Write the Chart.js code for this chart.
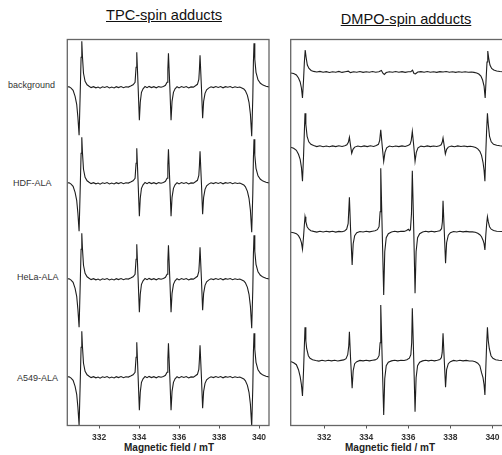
<!DOCTYPE html>
<html>
<head>
<meta charset="utf-8">
<script src="https://cdn.jsdelivr.net/npm/chart.js@4.4.1/dist/chart.umd.min.js"></script>
<style>
  html, body { margin: 0; padding: 0; background: #fff; overflow: hidden; }
  body { width: 502px; height: 455px; position: relative; font-family: "Liberation Sans", Arial, sans-serif; }
  canvas { position: absolute; left: 0; top: 0; }
  .title { position: absolute; font-size: 14.6px; line-height: 15px; text-decoration: underline; color: #111; white-space: nowrap; transform: translateX(-50%); }
  .row { position: absolute; font-size: 9px; line-height: 10px; color: #333; white-space: nowrap; }
  .xt { position: absolute; font-size: 10px; line-height: 10px; font-weight: bold; color: #222; white-space: nowrap; transform: translateX(-50%); }
</style>
</head>
<body>
<div class="title" style="left:164px; top:8px;">TPC-spin adducts</div>
<div class="title" style="left:406px; top:12px;">DMPO-spin adducts</div>
<div class="row" style="left:8px; top:80px;">background</div>
<div class="row" style="left:13px; top:178px;">HDF-ALA</div>
<div class="row" style="left:17px; top:272px;">HeLa-ALA</div>
<div class="row" style="left:17px; top:373px;">A549-ALA</div>
<div class="xt" style="left:169px; top:443px;">Magnetic field / mT</div>
<div class="xt" style="left:390px; top:443px;">Magnetic field / mT</div>
<canvas id="tpc" width="502" height="455"></canvas>
<canvas id="dmpo" width="504" height="455"></canvas>
<script>
// magnetic field axis (mT)
const fieldMin = 330.41;
const fieldMax = 340.5;
const fieldTicks = [332, 334, 336, 338, 340];

const rowNames = ['background', 'HDF-ALA', 'HeLa-ALA', 'A549-ALA'];
// vertical stacking of the spectra (same units as signal)
const tpcOffsets = [338.2, 242.2, 146.2, 48.2];
const dmpoOffsets = [353.5, 279.2, 193.8, 64.8];

// TPC spectrum, [field mT, signal] - all four samples look the same
const tpcSignal = [
  [330.41, 0.6], [330.5, 0.4], [330.6, -0.8], [330.7, -3], [330.8, -9], [330.88, -17], [330.94, -30], [331.0, -48],
  [331.05, -10], [331.1, 30], [331.135, 46], [331.17, 30], [331.22, 14], [331.3, 6], [331.4, 2.5], [331.5, 1],
  [331.6, -0.3], [331.72, 0.6], [331.84, -0.5], [331.95, 0.3], [332.05, -0.9], [332.17, 0.5], [332.28, -0.2], [332.4, 0.8],
  [332.52, -0.6], [332.63, 0.2], [332.75, -0.7], [332.86, 0.6], [332.97, -0.3], [333.1, 0.7], [333.22, -0.4], [333.34, 0.5],
  [333.46, 0.2], [333.58, 1.2], [333.7, 2.5], [333.8, 5], [333.85, 20], [333.885, 35], [333.95, 2], [334.015, -33],
  [334.06, -15], [334.12, -5], [334.2, -1.5], [334.3, 0.8], [334.4, -0.4], [334.5, 0.9], [334.62, -0.3], [334.74, 0.6],
  [334.86, -0.5], [334.98, 0.7], [335.1, 0.1], [335.22, 0.9], [335.32, 2], [335.4, 5], [335.44, 18], [335.47, 34],
  [335.54, 0], [335.6, -33], [335.65, -14], [335.72, -5], [335.8, -1.5], [335.9, 0.6], [336.0, -0.6], [336.12, 0.8],
  [336.24, -0.2], [336.36, 0.7], [336.48, -0.7], [336.6, 0.4], [336.72, 0.2], [336.82, 1.5], [336.92, 3], [336.99, 8],
  [337.02, 18], [337.05, 32], [337.12, 0], [337.18, -31], [337.23, -14], [337.3, -6], [337.38, -2.5], [337.48, -0.8],
  [337.6, 0.5], [337.72, -0.3], [337.84, 0.8], [337.96, -0.2], [338.08, 0.7], [338.2, -0.5], [338.32, 0.6], [338.44, 0.1],
  [338.56, 0.8], [338.68, -0.4], [338.8, 0.5], [338.92, -0.2], [339.04, 0.3], [339.14, -0.6], [339.24, -1.6], [339.32, -3.5],
  [339.42, -8], [339.5, -15], [339.57, -27], [339.635, -49], [339.69, -10], [339.72, 25], [339.75, 44], [339.79, 28],
  [339.85, 15], [339.95, 7.5], [340.07, 4], [340.2, 2.2], [340.35, 1], [340.5, 0.4]
];

// DMPO spectra
const dmpoBackground = [
  [330.41, -1], [330.55, -1.5], [330.68, -3], [330.78, -6], [330.86, -10], [330.92, -16], [330.97, -26], [331.02, -8],
  [331.06, 10], [331.1, 22], [331.14, 15], [331.2, 7], [331.28, 3.5], [331.38, 1.5], [331.5, 0.6], [331.65, 0],
  [331.8, 0.6], [331.95, -0.3], [332.1, 0.4], [332.25, -0.5], [332.4, 0.3], [332.55, -0.2], [332.7, 0.6], [332.85, -0.4],
  [333.0, 0.2], [333.15, 0.8], [333.25, -0.6], [333.4, 0.3], [333.55, -0.3], [333.7, 0.5], [333.85, -0.4], [334.0, 0.2],
  [334.15, -0.2], [334.3, 0.5], [334.45, -0.3], [334.6, 0.3], [334.72, 1.5], [334.8, -1.5], [334.86, -2.5], [334.95, -0.5],
  [335.1, 0.3], [335.25, -0.3], [335.4, 0.5], [335.55, -0.2], [335.7, 0.4], [335.85, -0.4], [336.0, 0.2], [336.12, 0.4],
  [336.2, 1.8], [336.27, -1.5], [336.34, -1.8], [336.45, 0], [336.6, 0.4], [336.75, -0.3], [336.9, 0.5], [337.05, -0.2],
  [337.2, 0.3], [337.35, -0.4], [337.5, 0.4], [337.65, 0], [337.8, 0.5], [337.95, -0.2], [338.1, 0.3], [338.25, -0.4],
  [338.4, 0.3], [338.55, -0.2], [338.7, 0.2], [338.85, -0.3], [339.0, 0], [339.12, -0.4], [339.25, -1], [339.35, -2],
  [339.45, -4], [339.53, -8], [339.6, -14], [339.652, -26], [339.7, -6], [339.74, 10], [339.776, 21], [339.82, 14],
  [339.88, 7], [339.96, 3.5], [340.06, 2], [340.2, 1], [340.35, 0.5], [340.5, 0.3]
];

const dmpoHdf = [
  [330.41, -1], [330.55, -2], [330.68, -4], [330.78, -8], [330.86, -13], [330.92, -21], [330.97, -35], [331.02, -10],
  [331.06, 15], [331.09, 33], [331.13, 22], [331.19, 10], [331.27, 4.5], [331.37, 2], [331.5, 0.8], [331.65, -0.3],
  [331.8, 0.5], [331.95, -0.4], [332.1, 0.3], [332.25, -0.5], [332.4, 0.4], [332.55, -0.3], [332.7, 0.5], [332.85, -0.2],
  [332.98, 0.6], [333.08, 1.5], [333.15, 4], [333.2, 9], [333.26, 0], [333.31, -7], [333.37, -3], [333.45, -0.8],
  [333.6, 0.3], [333.75, -0.4], [333.9, 0.4], [334.05, -0.3], [334.2, 0.5], [334.35, -0.2], [334.48, 0.8], [334.58, 2],
  [334.64, 6], [334.69, 16.5], [334.76, 0], [334.83, -15], [334.89, -6], [334.97, -1.5], [335.1, 0.3], [335.25, -0.4],
  [335.4, 0.3], [335.55, -0.3], [335.7, 0.4], [335.85, -0.2], [335.98, 0.7], [336.08, 2], [336.14, 6], [336.19, 15],
  [336.26, 0], [336.32, -15], [336.38, -6], [336.46, -1.5], [336.6, 0.2], [336.75, -0.4], [336.9, 0.4], [337.05, -0.3],
  [337.2, 0.3], [337.35, -0.2], [337.48, 0.6], [337.56, 1.5], [337.61, 4], [337.65, 8.3], [337.71, 0], [337.76, -7.7],
  [337.82, -3], [337.9, -0.8], [338.05, 0.2], [338.2, -0.4], [338.35, 0.4], [338.5, -0.2], [338.65, 0.3], [338.8, -0.3],
  [338.95, 0], [339.08, -0.5], [339.2, -1.2], [339.3, -2.5], [339.4, -5], [339.48, -9], [339.55, -16], [339.6, -24],
  [339.64, -35], [339.68, -8], [339.72, 15], [339.76, 33], [339.8, 22], [339.86, 10], [339.94, 4.5], [340.05, 2],
  [340.2, 1], [340.35, 0.5], [340.5, 0.2]
];

const dmpoHela = [
  [330.41, -0.5], [330.55, -1], [330.68, -2], [330.78, -4], [330.86, -7], [330.92, -11], [330.97, -17.6], [331.02, -5],
  [331.06, 7], [331.09, 15], [331.13, 10], [331.19, 5], [331.27, 2.5], [331.37, 1], [331.5, 0.3], [331.65, -0.4],
  [331.8, 0.4], [331.95, -0.3], [332.1, 0.5], [332.25, -0.2], [332.4, 0.4], [332.55, -0.4], [332.7, 0.3], [332.85, 0],
  [332.97, 0.8], [333.07, 2.5], [333.14, 8], [333.2, 34.4], [333.26, 0], [333.33, -33.3], [333.38, -12], [333.45, -4],
  [333.55, -1], [333.7, 0.2], [333.85, -0.3], [334.0, 0.4], [334.15, -0.2], [334.3, 0.5], [334.42, 0.9], [334.53, 2],
  [334.61, 5], [334.66, 20], [334.69, 63.4], [334.76, 0], [334.83, -63.3], [334.88, -20], [334.95, -6], [335.05, -2],
  [335.2, -0.3], [335.35, 0.4], [335.5, -0.2], [335.65, 0.5], [335.8, 0.3], [335.92, 1.2], [336.0, 2.4], [336.06, 1],
  [336.1, 2], [336.15, 18], [336.19, 61], [336.26, 0], [336.32, -61.6], [336.37, -20], [336.44, -6], [336.54, -2],
  [336.68, -0.3], [336.82, 0.4], [336.96, -0.2], [337.1, 0.5], [337.24, -0.2], [337.38, 0.4], [337.5, 1], [337.58, 3],
  [337.62, 10], [337.65, 31], [337.71, 0], [337.77, -31.6], [337.82, -11], [337.9, -3.5], [338.0, -1], [338.15, 0.2],
  [338.3, -0.3], [338.45, 0.4], [338.6, -0.2], [338.75, 0.3], [338.9, -0.2], [339.05, -0.2], [339.18, -0.6], [339.3, -1.5],
  [339.4, -3], [339.48, -5], [339.55, -8.5], [339.6, -12], [339.64, -18.3], [339.68, -4], [339.72, 7], [339.76, 15],
  [339.8, 10], [339.86, 5], [339.94, 2.5], [340.05, 1.2], [340.2, 0.5], [340.5, 0.2]
];

const dmpoA549 = [
  [330.41, -0.8], [330.55, -2], [330.68, -4], [330.78, -9], [330.86, -16], [330.92, -24], [330.97, -35.3], [331.02, -10],
  [331.06, 15], [331.09, 33.4], [331.13, 20], [331.17, 12], [331.25, 5], [331.33, 2.4], [331.45, 1], [331.6, 0.2],
  [331.75, -0.4], [331.9, 0.4], [332.05, -0.3], [332.2, 0.4], [332.35, -0.2], [332.5, 0.5], [332.65, -0.3], [332.8, 0.3],
  [332.93, 0.8], [333.04, 2], [333.12, 6], [333.17, 15], [333.2, 29], [333.26, 0], [333.33, -27.6], [333.38, -10],
  [333.45, -3], [333.55, -1], [333.7, 0.3], [333.85, -0.2], [334.0, 0.5], [334.15, -0.2], [334.3, 0.4], [334.42, 0.8],
  [334.53, 2], [334.61, 5], [334.66, 18], [334.69, 55.7], [334.76, 0], [334.83, -54.3], [334.88, -18], [334.95, -5],
  [335.05, -1.5], [335.2, -0.2], [335.35, 0.4], [335.5, -0.2], [335.65, 0.4], [335.8, 0.2], [335.93, 1], [336.05, 2.5],
  [336.12, 6], [336.16, 18], [336.19, 52.4], [336.26, 0], [336.32, -51], [336.37, -17], [336.44, -5], [336.54, -1.5],
  [336.68, -0.2], [336.82, 0.4], [336.96, -0.2], [337.1, 0.4], [337.24, -0.2], [337.38, 0.5], [337.5, 1.2], [337.57, 3],
  [337.61, 8], [337.65, 27.4], [337.71, 0], [337.77, -26.6], [337.82, -9], [337.9, -3], [338.0, -1], [338.15, 0.3],
  [338.3, -0.3], [338.45, 0.4], [338.6, -0.2], [338.75, 0.3], [338.9, -0.3], [339.05, -0.3], [339.18, -1], [339.3, -2.5],
  [339.4, -5], [339.48, -12], [339.55, -17], [339.6, -24], [339.64, -34.3], [339.68, -9], [339.72, 15], [339.76, 33.4],
  [339.8, 20], [339.85, 12], [339.93, 5], [340.02, 2.4], [340.15, 1], [340.3, 0.4], [340.5, 0.2]
];

const dmpoSpectra = [dmpoBackground, dmpoHdf, dmpoHela, dmpoA549];

// box round the plot area
const framePlugin = {
  id: 'frame',
  afterDraw(chart) {
    const a = chart.chartArea, ctx = chart.ctx;
    ctx.save();
    ctx.strokeStyle = '#666';
    ctx.lineWidth = 1.3;
    ctx.strokeRect(a.left, a.top, a.right - a.left, a.bottom - a.top);
    ctx.restore();
  }
};

function makeDatasets(spectra, offsets) {
  return spectra.map((s, i) => ({
    label: rowNames[i],
    data: s.map(p => ({ x: p[0], y: p[1] + offsets[i] })),
    borderColor: '#1e1e1e',
    borderWidth: 1.1,
    pointRadius: 0,
    tension: 0,
    fill: false
  }));
}

function makeChart(id, datasets, padLeft, padRight) {
  return new Chart(document.getElementById(id), {
    type: 'line',
    data: { datasets: datasets },
    plugins: [framePlugin],
    options: {
      responsive: false,
      animation: false,
      devicePixelRatio: 1,
      layout: { padding: { left: padLeft, right: padRight, top: 39.5, bottom: 0 } },
      plugins: { legend: { display: false }, tooltip: { enabled: false } },
      scales: {
        x: {
          type: 'linear',
          min: fieldMin,
          max: fieldMax,
          afterBuildTicks: s => { s.ticks = fieldTicks.map(v => ({ value: v })); },
          afterFit: s => { s.height = 29.5; },
          border: { display: false },
          grid: { drawOnChartArea: false, drawTicks: true, tickLength: 3, tickColor: '#555', lineWidth: 1 },
          ticks: {
            autoSkip: false,
            maxRotation: 0,
            padding: 4,
            color: '#333',
            font: { family: '"Liberation Sans Narrow", "Liberation Sans", Arial', size: 8.5, weight: 'bold' },
            callback: v => String(v)
          }
        },
        y: { display: false, min: 0, max: 386 }
      }
    }
  });
}

makeChart('tpc', makeDatasets(rowNames.map(() => tpcSignal), tpcOffsets), 67.3, 233);
makeChart('dmpo', makeDatasets(dmpoSpectra, dmpoOffsets), 290.7, 1);
</script>
</body>
</html>
